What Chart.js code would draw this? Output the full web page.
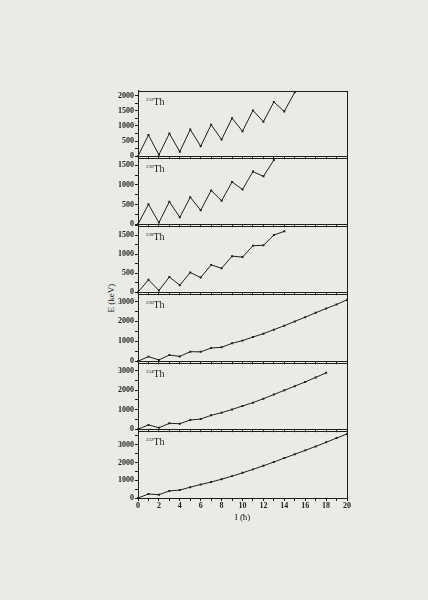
<!DOCTYPE html>
<html>
<head>
<meta charset="utf-8">
<script src="https://cdn.jsdelivr.net/npm/chart.js@4.4.1/dist/chart.umd.min.js"></script>
<style>
  html, body { margin: 0; padding: 0; }
  body { width: 428px; height: 600px; background: #e9ebe7; position: relative; overflow: hidden; }
  canvas { position: absolute; }
  .iso { position: absolute; font-family: "Liberation Serif", serif; font-size: 10px; color: #222; line-height: 1; }
  .iso sup { font-size: 5px; vertical-align: 4px; }
  .ytitle { position: absolute; left: 91px; top: 293px; width: 40px; text-align: center;
            font-family: "Liberation Serif", serif; font-size: 9px; color: #222; transform: rotate(-90deg); }
</style>
</head>
<body>
<div class="ytitle">E (keV)</div>
<script>
// spins (x) and level energies (y)
const I232 = [0,1,2,3,4,5,6,7,8,9,10,11,12,13,14,15]
const E232 = [0,700,45,750,150,880,330,1040,550,1255,825,1510,1140,1790,1480,2110]

const I230 = [0,1,2,3,4,5,6,7,8,9,10,11,12,13]
const E230 = [0,505,40,572,174,688,356,860,597,1075,885,1340,1218,1633]

const I228 = [0,1,2,3,4,5,6,7,8,9,10,11,12,13,14]
const E228 = [0,328,45,400,185,520,385,720,630,950,925,1225,1235,1505,1605]

const I226 = [0,1,2,3,4,5,6,7,8,9,10,11,12,13,14,15,16,17,18,19,20]
const E226 = [0,230,65,310,240,480,470,660,700,900,1035,1215,1385,1585,1785,2000,2215,2435,2650,2855,3085]

const I224 = [0,1,2,3,4,5,6,7,8,9,10,11,12,13,14,15,16,17,18]
const E224 = [0,220,75,300,280,470,520,710,845,1010,1190,1360,1560,1775,1990,2205,2420,2650,2885]

const I222 = [0,1,2,3,4,5,6,7,8,9,10,11,12,13,14,15,16,17,18,19,20]
const E222 = [0,225,185,400,444,611,759,900,1057,1230,1415,1610,1811,2025,2245,2460,2679,2900,3132,3370,3604]

const xTicks = [0,2,4,6,8,10,12,14,16,18,20]

const PANELS = [
  { mass: '232', x: I232, y: E232, max: 2160, major: 500,  top: 90,  bot: 157 },
  { mass: '230', x: I230, y: E230, max: 1690, major: 500,  top: 157, bot: 225 },
  { mass: '228', x: I228, y: E228, max: 1750, major: 500,  top: 225, bot: 293 },
  { mass: '226', x: I226, y: E226, max: 3390, major: 1000, top: 293, bot: 362 },
  { mass: '224', x: I224, y: E224, max: 3400, major: 1000, top: 362, bot: 430 },
  { mass: '222', x: I222, y: E222, max: 3780, major: 1000, top: 430, bot: 498 },
]

const INK = '#1e1e1e'
const FONT = { family: '"Liberation Serif", serif', size: 8, weight: 'bold' }
const LEFT = 100, WIDTH = 255, YAXIS_W = 38, PAD_R = 8, PAD_T = 5

const frame = {
  id: 'frame',
  afterDraw(chart) {
    const a = chart.chartArea, ctx = chart.ctx
    ctx.save()
    ctx.strokeStyle = INK
    ctx.lineWidth = 1
    ctx.strokeRect(Math.round(a.left) + 0.5, Math.round(a.top) + 0.5,
                   Math.round(a.right - a.left), Math.round(a.bottom - a.top))
    ctx.restore()
  }
}

function makePanel(p, last) {
  const xExtra = last ? 25 : 5
  const h = (p.bot - p.top) + PAD_T + xExtra
  const cv = document.createElement('canvas')
  cv.width = WIDTH
  cv.height = h
  cv.style.left = LEFT + 'px'
  cv.style.top = (p.top - PAD_T) + 'px'
  document.body.appendChild(cv)

  const label = document.createElement('div')
  label.className = 'iso'
  label.innerHTML = '<sup>' + p.mass + '</sup>Th'
  label.style.left = '146px'
  label.style.top = (p.top + 7) + 'px'
  document.body.appendChild(label)

  const minor = p.major / 2

  new Chart(cv, {
    type: 'line',
    data: {
      datasets: [{
        data: p.x.map((v, i) => ({ x: v, y: p.y[i] })),
        borderColor: INK,
        borderWidth: 1,
        backgroundColor: INK,
        pointStyle: 'rect',
        pointRadius: 1.4,
        pointBorderWidth: 0,
        tension: 0,
        fill: false,
        clip: 4
      }]
    },
    options: {
      responsive: false,
      animation: false,
      devicePixelRatio: 1,
      layout: { padding: { top: PAD_T, right: PAD_R, left: 0, bottom: 0 } },
      plugins: { legend: { display: false }, tooltip: { enabled: false } },
      scales: {
        x: {
          type: 'linear',
          min: 0, max: 20,
          afterFit(axis) { axis.height = xExtra },
          afterBuildTicks(axis) {
            axis.ticks = []
            for (let v = 0; v <= 20; v++) axis.ticks.push({ value: v })
          },
          grid: { drawOnChartArea: false, drawTicks: true, tickLength: 3, color: INK },
          border: { display: true, color: INK },
          ticks: {
            display: last,
            color: INK,
            font: FONT,
            padding: 0,
            maxRotation: 0,
            autoSkip: false,
            callback: v => (xTicks.includes(v) ? String(v) : '')
          },
          title: {
            display: last,
            text: 'I (\u0127)',
            color: INK,
            font: { family: '"Liberation Serif", serif', size: 9 },
            padding: { top: 0, bottom: 0 }
          }
        },
        y: {
          min: 0, max: p.max,
          afterFit(axis) { axis.width = YAXIS_W },
          afterBuildTicks(axis) {
            axis.ticks = []
            for (let v = 0; v <= p.max; v += minor) axis.ticks.push({ value: v })
          },
          grid: { drawOnChartArea: false, drawTicks: true, tickLength: 3, color: INK },
          border: { display: true, color: INK },
          ticks: {
            color: INK,
            font: FONT,
            padding: 1,
            autoSkip: false,
            callback: v => (v % p.major === 0 ? String(v) : '')
          }
        }
      }
    },
    plugins: [frame]
  })
}

PANELS.forEach((p, i) => makePanel(p, i === PANELS.length - 1))
</script>
</body>
</html>
